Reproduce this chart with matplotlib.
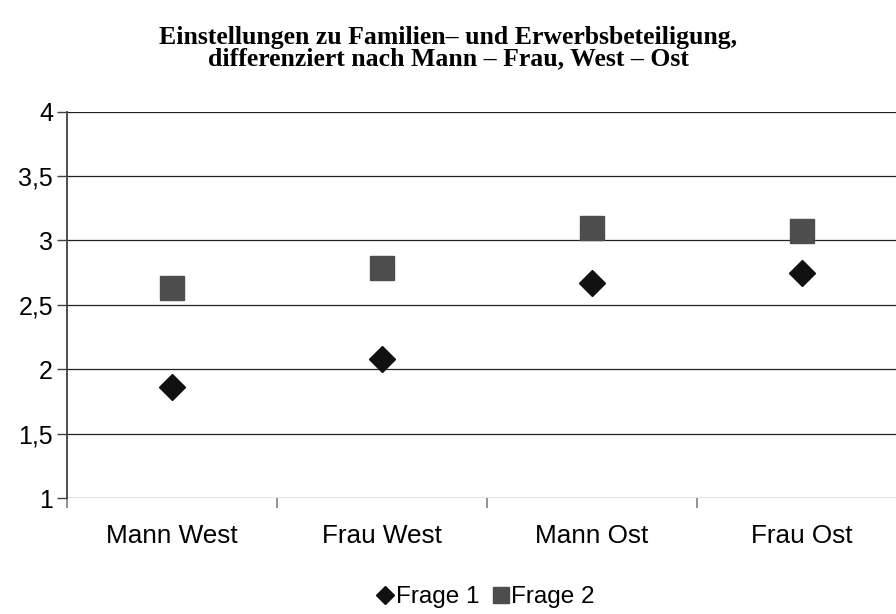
import matplotlib
matplotlib.use("Agg")
import matplotlib.pyplot as plt
from matplotlib.ticker import FixedLocator, FuncFormatter

# data
kategorien = ["Mann West", "Frau West", "Mann Ost", "Frau Ost"]
frage1 = [1.86, 2.08, 2.67, 2.75]
frage2 = [2.63, 2.79, 3.10, 3.07]
yticks = [1, 1.5, 2, 2.5, 3, 3.5, 4]

plt.rcParams['font.family'] = ['Liberation Sans', 'DejaVu Sans']

fig = plt.figure(figsize=(8.96, 6.14), dpi=100)
ax = fig.add_axes([67/896, 116/614, 840/896, 386.3/614])

x = list(range(len(kategorien)))
ax.plot(x, frage1, linestyle='none', marker='D', markersize=13,
        color='#111111', label='Frage 1', zorder=3)
ax.plot(x, frage2, linestyle='none', marker='s', markersize=17,
        color='#4d4d4d', label='Frage 2', zorder=3)

ax.set_xlim(-0.5, len(kategorien) - 0.5)
ax.set_ylim(1, 4)
ax.set_yticks(yticks)
ax.yaxis.set_major_formatter(FuncFormatter(lambda v, p: ('%g' % v).replace('.', ',')))
ax.set_xticks(x)
ax.set_xticklabels(kategorien)
ax.xaxis.set_minor_locator(FixedLocator([i - 0.5 for i in range(len(kategorien) + 1)]))

ax.tick_params(axis='y', length=7, width=1, color='#404040', pad=3, labelsize=18)
ax.tick_params(axis='x', which='major', length=0, pad=19, labelsize=18.8)
ax.tick_params(axis='x', which='minor', length=7, width=1.2, color='#808080')

ax.grid(axis='y', color='#222222', linewidth=0.9)
ax.set_axisbelow(True)
for s in ['top', 'right', 'bottom']:
    ax.spines[s].set_visible(False)
ax.spines['left'].set_color('#404040')
ax.spines['left'].set_linewidth(1.3)

fig.text(0.5, 0.958, "Einstellungen zu Familien\u2013 und Erwerbsbeteiligung,\n"
         "differenziert nach Mann \u2013 Frau, West \u2013 Ost",
         ha='center', va='top', multialignment='center',
         family='Liberation Serif', fontweight='bold', fontsize=18.5, linespacing=0.92)

h, l = ax.get_legend_handles_labels()
leg = fig.legend(h, l, loc='center', bbox_to_anchor=(0.543, 0.027), ncol=2,
                 frameon=False, fontsize=17.5, handlelength=0.6, handletextpad=0.15,
                 columnspacing=0.55, markerscale=0.7)

fig.savefig("out.png", dpi=100)
